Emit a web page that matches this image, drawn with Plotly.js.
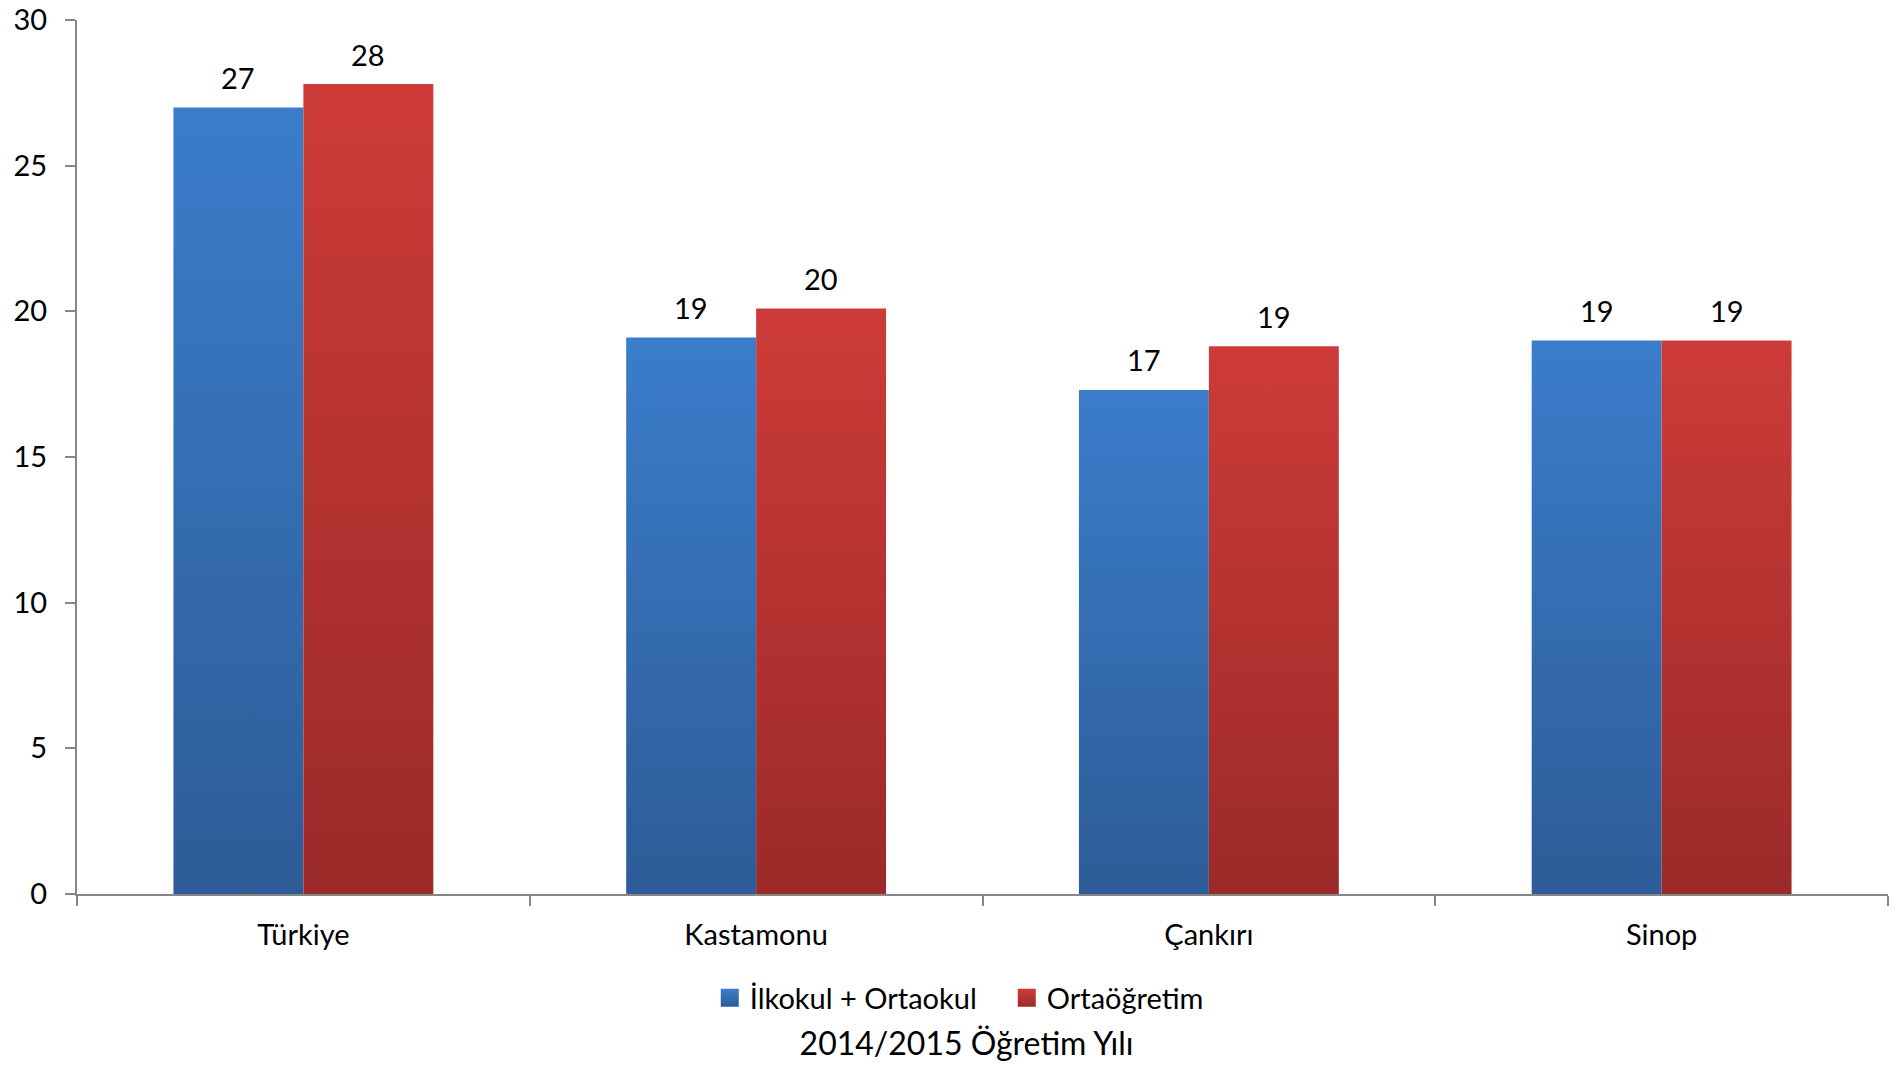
<!DOCTYPE html>
<html>
<head>
<meta charset="utf-8">
<script src="https://cdn.plot.ly/plotly-3.0.1.min.js"></script>
<style>html,body{margin:0;padding:0;background:#fff;}#chart{width:1899px;height:1068px;}</style>
</head>
<body>
<div id="chart"></div>
<script>
const categories = ["Türkiye", "Kastamonu", "Çankırı", "Sinop"];
const seriesNames = ["İlkokul + Ortaokul", "Ortaöğretim"];
const ilkokulOrtaokul = [27.0, 19.1, 17.3, 19.0];
const ortaogretim = [27.8, 20.1, 18.8, 19.0];
const yTicks = [0, 5, 10, 15, 20, 25, 30];
const chartTitle = "2014/2015 Öğretim Yılı";

const FONT = "Lato, 'Open Sans', sans-serif";
const FS = 29;
const axisColor = "#868686";

const traces = [
  {type: "bar", name: seriesNames[0], x: categories, y: ilkokulOrtaokul,
   marker: {color: "#3a7bc8", line: {width: 0}}, hoverinfo: "x+y"},
  {type: "bar", name: seriesNames[1], x: categories, y: ortaogretim,
   marker: {color: "#cc3a37", line: {width: 0}}, hoverinfo: "x+y"}
];

const BAR_HALF = 65;
const annotations = [];
[ilkokulOrtaokul, ortaogretim].forEach((vals, s) => {
  vals.forEach((v, i) => {
    annotations.push({
      x: categories[i], y: v, xref: "x", yref: "y",
      text: String(Math.round(v)), showarrow: false,
      xshift: s === 0 ? -BAR_HALF : BAR_HALF, yshift: 30,
      yanchor: "middle", xanchor: "center",
      font: {family: FONT, size: FS, color: "#000"}
    });
  });
});

const layout = {
  width: 1899, height: 1068,
  margin: {l: 77, r: 11, t: 20, b: 174, autoexpand: false},
  paper_bgcolor: "#fff", plot_bgcolor: "#fff",
  font: {family: FONT, size: FS, color: "#000"},
  barmode: "group", bargap: 0.426, bargroupgap: 0,
  showlegend: true,
  legend: {orientation: "h", x: 0.3494, xanchor: "left",
           y: -0.119, yanchor: "middle", font: {family: FONT, size: FS, color: "#000"},
           traceorder: "normal", bgcolor: "rgba(0,0,0,0)",
           entrywidth: 252, entrywidthmode: "pixels"},
  title: {text: chartTitle, xref: "container", yref: "container", x: 0.509, xanchor: "center",
          y: 0.023, yanchor: "middle", font: {family: FONT, size: 32, color: "#000"}},
  xaxis: {type: "category", range: [-0.5, 3.5], showline: true, linecolor: axisColor, linewidth: 2,
          ticks: "outside", tickson: "boundaries", ticklen: 10, tickwidth: 2, tickcolor: axisColor,
          showgrid: false, zeroline: false, ticklabelstandoff: 14, automargin: false,
          tickfont: {family: FONT, size: FS, color: "#000"}},
  yaxis: {range: [0, 30], tickvals: yTicks, showline: true, linecolor: axisColor, linewidth: 2,
          ticks: "outside", ticklen: 10, tickwidth: 2, tickcolor: axisColor,
          showgrid: false, zeroline: false, ticklabelstandoff: 12, automargin: false,
          ticklabeloverflow: "allow",
          tickfont: {family: FONT, size: FS, color: "#000"}},
  annotations: annotations
};

function addGradients() {
  const svg = document.querySelector("#chart .main-svg");
  const NS = "http://www.w3.org/2000/svg";
  let defs = svg.querySelector("defs");
  if (!defs) { defs = document.createElementNS(NS, "defs"); svg.insertBefore(defs, svg.firstChild); }
  const grads = [["gBlue", "#3b7dcb", "#2d5c97"], ["gRed", "#cd3b38", "#9b2a29"]];
  grads.forEach(([id, c1, c2]) => {
    const g = document.createElementNS(NS, "linearGradient");
    g.setAttribute("id", id);
    g.setAttribute("x1", "0"); g.setAttribute("y1", "0");
    g.setAttribute("x2", "0"); g.setAttribute("y2", "1");
    [[0, c1], [1, c2]].forEach(([o, c]) => {
      const st = document.createElementNS(NS, "stop");
      st.setAttribute("offset", o); st.setAttribute("stop-color", c);
      g.appendChild(st);
    });
    defs.appendChild(g);
  });
  const barTraces = document.querySelectorAll("#chart .barlayer .trace.bars");
  barTraces.forEach((t, i) => {
    t.querySelectorAll(".point path").forEach(p => { p.style.fill = `url(#${grads[i][0]})`; });
  });
  const legendTraces = document.querySelectorAll("#chart .legend .traces");
  legendTraces.forEach((t, i) => {
    t.querySelectorAll(".legendpoints path").forEach(p => {
      p.style.fill = `url(#${grads[i][0]})`;
      const tr = p.getAttribute("transform") || "";
      p.setAttribute("transform", tr + " scale(1.5)");
    });
  });
}

Plotly.newPlot("chart", traces, layout, {displayModeBar: false, staticPlot: true}).then(addGradients);
</script>
</body>
</html>
